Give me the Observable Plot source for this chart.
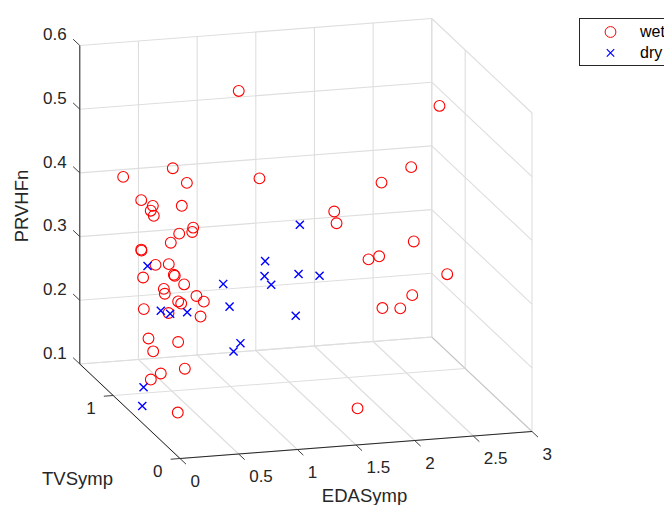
<!DOCTYPE html>
<html>
<head>
<meta charset="utf-8">
<script src="https://cdn.jsdelivr.net/npm/d3@7"></script>
<script src="https://cdn.jsdelivr.net/npm/@observablehq/plot@0.6"></script>
<style>
html,body{margin:0;padding:0;background:#fff;width:664px;height:505px;overflow:hidden}
#wrap{position:relative;width:664px;height:505px;overflow:hidden;font-family:"Liberation Sans",Arial,sans-serif}
#legend{position:absolute;left:579px;top:18px;width:120px;height:46px;border:1px solid #262626;background:#fff;font-size:16px;color:#000}
#legend svg{position:absolute;left:0;top:0}
#legend span{position:absolute;left:60px;line-height:20px}
</style>
</head>
<body>
<div id="wrap">
<div id="chart"></div>
<div id="legend">
<svg width="60" height="46"><circle cx="30.5" cy="13" r="5.4" fill="none" stroke="#ff0000"/><path d="M26.8 30.2L34.2 37.6M34.2 30.2L26.8 37.6" stroke="#0000ff" stroke-width="1.2"/></svg>
<span style="top:3px">wet</span><span style="top:24px">dry</span>
</div>
</div>
<script>
const wetEDA = [1.070,0.085,0.394,0.457,1.019,0.182,0.167,0.206,0.118,0.300,0.340,0.446,0.164,0.320,0.296,0.241,2.724,2.426,2.116,1.656,1.619,2.448,1.982,2.005,2.619,2.264,1.953,2.219,1.627,0.190,0.189,0.289,0.240,0.141,0.263,0.204,0.155,0.311,0.317,0.212,0.181,0.090,0.130,0.289,0.073,0.155,0.056,0.155,0.064,0.036,0.095];
const wetTV  = [1.0,1.0,0.8,0.7,0.6,0.9,0.7,0.8,0.6,0.5,0.4,0.6,0.3,0.7,1.1,1.0,0.9,0.8,0.7,0.6,0.5,0.8,0.5,0.7,0.6,0.5,0.4,0.6,0.2,0.7,0.5,0.6,0.5,0.8,0.4,0.6,0.5,0.3,0.2,0.4,0.3,0.7,0.4,0.2,0.6,0.3,0.5,0.2,0.4,0.5,0.2];
const wetPRV = [0.563,0.442,0.471,0.457,0.466,0.414,0.425,0.407,0.420,0.443,0.418,0.390,0.421,0.365,0.315,0.324,0.526,0.444,0.434,0.405,0.397,0.327,0.340,0.315,0.293,0.275,0.269,0.245,0.136,0.332,0.353,0.325,0.334,0.303,0.330,0.304,0.307,0.321,0.322,0.304,0.311,0.264,0.287,0.299,0.228,0.251,0.218,0.219,0.193,0.174,0.151];
const dryEDA = [1.306,0.065,1.181,1.062,1.295,1.531,0.767,1.005,0.707,0.178,0.201,0.289,1.157,0.743,0.741,0.031,0.077];
const dryTV  = [0.5,0.6,0.8,0.6,0.5,0.6,0.7,0.4,0.5,0.6,0.5,0.4,0.3,0.4,0.5,0.6,0.7];
const dryPRV = [0.399,0.342,0.314,0.312,0.322,0.306,0.294,0.319,0.279,0.270,0.275,0.286,0.278,0.231,0.208,0.152,0.112];

const edaTicks = [0,0.5,1,1.5,2,2.5,3];
const edaLabels = ["0","0.5","1","1.5","2","2.5","3"];
const tvTicks = [0,1];
const tvLabels = ["0","1"];
const prvTicks = [0.1,0.2,0.3,0.4,0.5,0.6];
const prvLabels = ["0.1","0.2","0.3","0.4","0.5","0.6"];
const edaMax = 3, tvMax = 1.5, prvMin = 0.1, prvMax = 0.6;

// orthographic view of the MATLAB 3-D axes
const U = ([e,t]) => 117.33*e - 66.8*t;
const V = ([e,t,z]) => 9*e + 63*t + 637*(z - 0.1);

const points = (E,T,Z) => E.map((e,i)=>[e,T[i],Z[i]]);
const wet = points(wetEDA,wetTV,wetPRV);
const dry = points(dryEDA,dryTV,dryPRV);

const seg = (a,b)=>({a,b});
const grid = [
  ...edaTicks.map(e=>seg([e,tvMax,prvMin],[e,tvMax,prvMax])),
  ...prvTicks.map(z=>seg([0,tvMax,z],[edaMax,tvMax,z])),
  ...prvTicks.map(z=>seg([edaMax,0,z],[edaMax,tvMax,z])),
  ...[...tvTicks,tvMax].map(t=>seg([edaMax,t,prvMin],[edaMax,t,prvMax])),
  ...edaTicks.map(e=>seg([e,0,prvMin],[e,tvMax,prvMin])),
  ...[...tvTicks,tvMax].map(t=>seg([0,t,prvMin],[edaMax,t,prvMin]))
];
const axes = [
  seg([0,tvMax,prvMin],[0,tvMax,prvMax]),
  seg([0,0,prvMin],[0,tvMax,prvMin]),
  seg([0,0,prvMin],[edaMax,0,prvMin])
];
const ticks = [
  ...prvTicks.map(z=>seg([0,tvMax,z],[0,tvMax+0.1,z])),
  ...tvTicks.map(t=>seg([0,t,prvMin],[-0.08,t,prvMin])),
  ...edaTicks.map(e=>seg([e,0,prvMin],[e,-0.09,prvMin]))
];
const link = (data,o)=>Plot.link(data,{x1:d=>U(d.a),y1:d=>V(d.a),x2:d=>U(d.b),y2:d=>V(d.b),...o});
const label = (data,pos,text,o)=>Plot.text(data,{x:d=>U(pos(d)),y:d=>V(pos(d)),text,fill:"#262626",...o});

const chart = Plot.plot({
  width:664, height:505, margin:0,
  style:{fontFamily:'"Liberation Sans",Arial,sans-serif',background:"transparent"},
  x:{axis:null, domain:[-179.5,484.5], range:[0,664]},
  y:{axis:null, domain:[-47,458], range:[505,0]},
  marks:[
    link(grid,{stroke:"#dedede",strokeWidth:1.1}),
    link([seg([edaMax,0,prvMin],[edaMax,tvMax,prvMin])],{stroke:"#c4c4c4",strokeWidth:1}),
    link(axes,{stroke:"#262626",strokeWidth:1}),
    link(ticks,{stroke:"#404040",strokeWidth:1}),
    label(prvTicks.map((v,i)=>({v,i})),d=>[0,tvMax+0.1,d.v],d=>prvLabels[d.i],{textAnchor:"end",dx:-6.5,dy:-4.3,fontSize:17}),
    label(tvTicks.map((v,i)=>({v,i})),d=>[-0.08,d.v,prvMin],d=>tvLabels[d.i],{textAnchor:"end",dx:-8.2,dy:12.3,fontSize:17}),
    label(edaTicks.map((v,i)=>({v,i})),d=>[d.v,-0.09,prvMin],d=>edaLabels[d.i],{textAnchor:"start",dx:4.5,dy:17.3,fontSize:17}),
    label(["PRVHFn"],()=>[0,tvMax,0.348],d=>d,{rotate:-90,dx:-57.6,fontSize:18.5}),
    label(["TVSymp"],()=>[0,tvMax/2,prvMin],d=>d,{dx:-52.4,dy:68,fontSize:18.5}),
    label(["EDASymp"],()=>[edaMax/2,0,prvMin],d=>d,{dx:8.5,dy:51.5,fontSize:18.5}),
    Plot.dot(wet,{x:U,y:V,r:5.4,symbol:"circle",stroke:"#ff0000",strokeWidth:1.1,fill:"none"}),
    Plot.dot(dry,{x:U,y:V,r:3.76,symbol:"times",stroke:"#0000ff",strokeWidth:1.4})
  ]
});
document.getElementById("chart").appendChild(chart);
</script>
</body>
</html>
